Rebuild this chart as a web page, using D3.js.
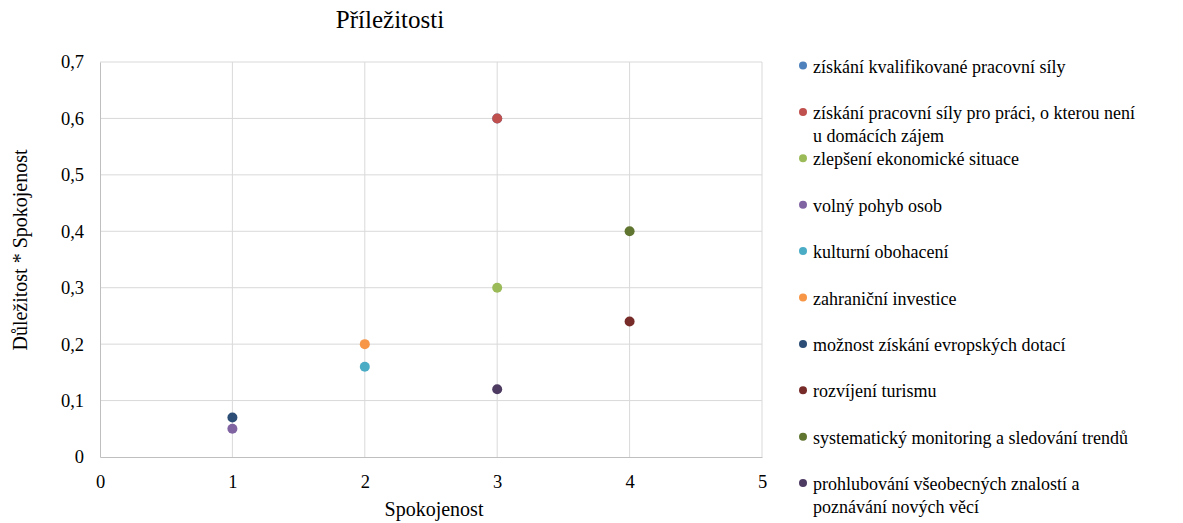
<!DOCTYPE html>
<html lang="cs">
<head>
    <meta charset="UTF-8">
    <title>Příležitosti</title>
    <script src="https://d3js.org/d3.v7.min.js"></script>
    <style>
        body { margin: 0; background: #fff; }
        svg text { font-family: 'Liberation Serif', 'Times New Roman', Tinos, 'DejaVu Serif', serif; fill: #000; }
    </style>
</head>
<body>
<svg id="chart" width="1183" height="523"></svg>
<script>
    // Series names (legend order), values and colours
    const seriesNames = [
        ["získání kvalifikované pracovní síly"],
        ["získání pracovní síly pro práci, o kterou není", "u domácích zájem"],
        ["zlepšení ekonomické situace"],
        ["volný pohyb osob"],
        ["kulturní obohacení"],
        ["zahraniční investice"],
        ["možnost získání evropských dotací"],
        ["rozvíjení turismu"],
        ["systematický monitoring a sledování trendů"],
        ["prohlubování všeobecných znalostí a", "poznávání nových věcí"]
    ];
    const spokojenost = [3, 3, 3, 1, 2, 2, 1, 4, 4, 3];
    const dulezitost = [0.6, 0.6, 0.3, 0.05, 0.16, 0.2, 0.07, 0.24, 0.4, 0.12];
    const colors = ["#4F81BD", "#C0504D", "#9BBB59", "#8064A2", "#4BACC6",
                    "#F79646", "#2C4D75", "#772C2A", "#5F7530", "#4D3B62"];
    const xTicks = [0, 1, 2, 3, 4, 5];
    const yTicks = [0, 0.1, 0.2, 0.3, 0.4, 0.5, 0.6, 0.7];

    const serif = "'Liberation Serif', 'Times New Roman', Tinos, 'DejaVu Serif', serif";
    const svg = d3.select("#chart").attr("font-family", serif);
    const plot = { left: 100, right: 762, top: 62, bottom: 457 };

    const x = d3.scaleLinear().domain([0, 5]).range([plot.left, plot.right]);
    const y = d3.scaleLinear().domain([0, 0.7]).range([plot.bottom, plot.top]);
    const fmt = v => d3.format(".1~f")(v).replace(".", ",");

    // grid
    svg.append("g").selectAll("line").data(yTicks.slice(1)).join("line")
        .attr("x1", plot.left).attr("x2", plot.right)
        .attr("y1", d => y(d)).attr("y2", d => y(d))
        .attr("stroke", "#d9d9d9").attr("stroke-width", 1);
    svg.append("g").selectAll("line").data(xTicks.slice(1)).join("line")
        .attr("x1", d => x(d)).attr("x2", d => x(d))
        .attr("y1", plot.top).attr("y2", plot.bottom)
        .attr("stroke", "#d9d9d9").attr("stroke-width", 1);

    // axes
    const xAxis = svg.append("g").attr("transform", `translate(0,${plot.bottom})`)
        .call(d3.axisBottom(x).tickValues(xTicks).tickSize(0).tickPadding(18).tickFormat(d => d));
    const yAxis = svg.append("g").attr("transform", `translate(${plot.left},0)`)
        .call(d3.axisLeft(y).tickValues(yTicks).tickSize(0).tickPadding(16).tickFormat(fmt));
    [xAxis, yAxis].forEach(a => {
        a.attr("font-family", serif).attr("font-size", 18.5);
        a.select(".domain").attr("stroke", "#bfbfbf");
    });

    // points
    svg.append("g").selectAll("circle").data(d3.range(seriesNames.length)).join("circle")
        .attr("cx", i => x(spokojenost[i]))
        .attr("cy", i => y(dulezitost[i]))
        .attr("r", 5)
        .attr("fill", i => colors[i]);

    // title & axis labels
    svg.append("text").attr("x", 390).attr("y", 28).attr("text-anchor", "middle")
        .attr("font-size", 25).text("Příležitosti");
    svg.append("text").attr("x", 434).attr("y", 516).attr("text-anchor", "middle")
        .attr("font-size", 20).text("Spokojenost");
    svg.append("text").attr("transform", "translate(27,250) rotate(-90)").attr("text-anchor", "middle")
        .attr("font-size", 20).text("Důležitost * Spokojenost");

    // legend
    const legend = svg.append("g").selectAll("g").data(seriesNames).join("g")
        .attr("transform", (d, i) => `translate(803,${65.5 + i * 46.4})`);
    legend.append("circle").attr("r", 4).attr("fill", (d, i) => colors[i]);
    legend.append("text").attr("font-size", 18)
        .selectAll("tspan").data(d => d).join("tspan")
        .attr("x", 10).attr("y", (d, j) => 7 + j * 23)
        .text(d => d);
</script>
</body>
</html>
